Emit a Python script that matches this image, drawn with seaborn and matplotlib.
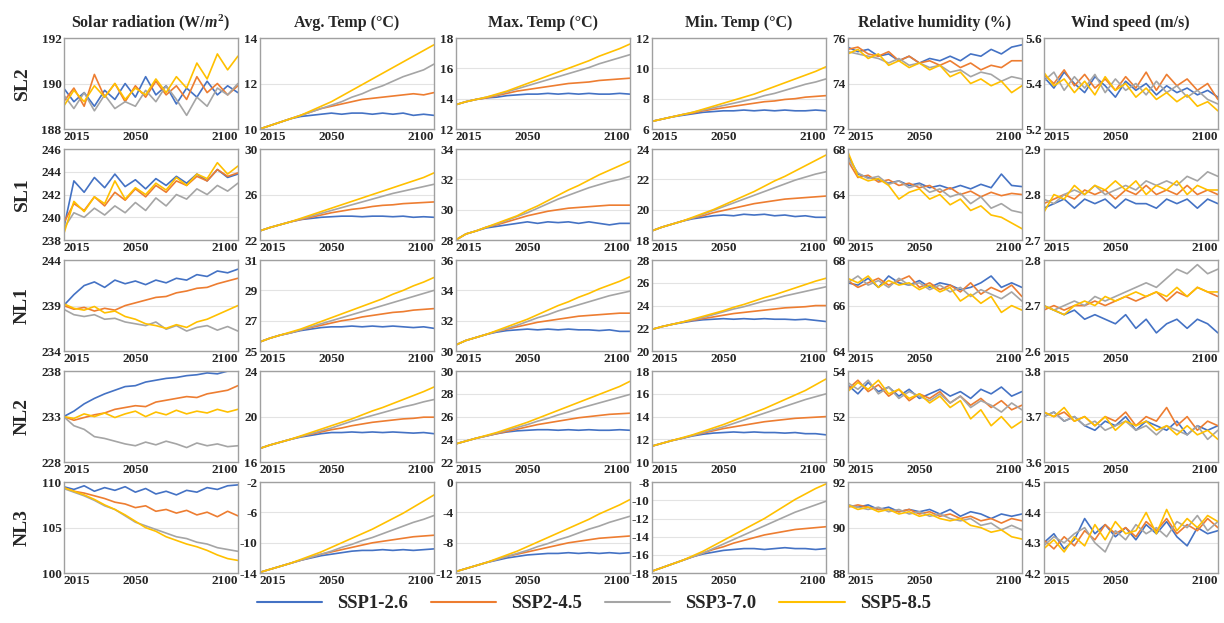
import numpy as np
import pandas as pd
import seaborn as sns
import matplotlib.pyplot as plt
from matplotlib.lines import Line2D

YEARS = list(range(2015, 2101, 5))
SCENARIOS = ['SSP1-2.6', 'SSP2-4.5', 'SSP3-7.0', 'SSP5-8.5']
COLORS = ['#4472C4', '#ED7D31', '#A5A5A5', '#FFC000']
SITES = ['SL2', 'SL1', 'NL1', 'NL2', 'NL3']
TITLES = [r'Solar radiation (W/$\mathit{m}^2$)', 'Avg. Temp (°C)', 'Max. Temp (°C)',
          'Min. Temp (°C)', 'Relative humidity (%)', 'Wind speed (m/s)']

# ---- SL2 ----
sl2_solar = [
    [189.8, 189.2, 189.6, 189.0, 189.7, 189.3, 190.0, 189.4, 190.3, 189.5, 189.9, 189.1, 189.8, 189.4, 190.1, 189.5, 189.9, 189.6],
    [189.2, 189.8, 189.0, 190.4, 189.4, 190.0, 189.2, 189.9, 189.4, 190.1, 189.5, 189.9, 189.3, 190.3, 189.6, 190.0, 189.5, 189.9],
    [189.5, 188.9, 189.6, 188.8, 189.5, 188.9, 189.2, 189.0, 189.7, 189.2, 189.9, 189.3, 188.6, 189.4, 189.0, 189.8, 189.5, 190.0],
    [189.0, 189.7, 189.2, 189.9, 189.4, 190.0, 189.3, 189.8, 189.5, 190.2, 189.6, 190.3, 189.8, 190.9, 190.2, 191.3, 190.6, 191.2]]
sl2_avg = [
    [10.0, 10.15, 10.3, 10.45, 10.55, 10.6, 10.65, 10.7, 10.65, 10.7, 10.7, 10.65, 10.7, 10.65, 10.7, 10.6, 10.65, 10.6],
    [10.0, 10.15, 10.3, 10.45, 10.6, 10.75, 10.9, 11.0, 11.1, 11.2, 11.3, 11.35, 11.4, 11.45, 11.5, 11.55, 11.5, 11.6],
    [10.0, 10.15, 10.3, 10.45, 10.6, 10.75, 10.9, 11.05, 11.2, 11.4, 11.55, 11.75, 11.9, 12.1, 12.3, 12.45, 12.6, 12.85],
    [10.0, 10.15, 10.3, 10.45, 10.6, 10.8, 11.0, 11.2, 11.45, 11.7, 11.95, 12.2, 12.45, 12.7, 12.95, 13.2, 13.45, 13.7]]
sl2_max = [
    [13.6, 13.8, 13.95, 14.05, 14.1, 14.2, 14.25, 14.3, 14.3, 14.35, 14.3, 14.35, 14.3, 14.35, 14.3, 14.3, 14.35, 14.3],
    [13.6, 13.8, 13.95, 14.05, 14.2, 14.35, 14.5, 14.6, 14.7, 14.8, 14.9, 15.0, 15.05, 15.1, 15.2, 15.25, 15.3, 15.35],
    [13.6, 13.8, 13.95, 14.1, 14.25, 14.45, 14.65, 14.85, 15.05, 15.25, 15.45, 15.65, 15.85, 16.05, 16.3, 16.5, 16.7, 16.9],
    [13.6, 13.8, 13.95, 14.1, 14.3, 14.5, 14.75, 15.0, 15.25, 15.5, 15.75, 16.0, 16.25, 16.5, 16.8, 17.05, 17.3, 17.6]]
sl2_min = [
    [6.5, 6.65, 6.8, 6.9, 7.0, 7.1, 7.15, 7.2, 7.2, 7.25, 7.2, 7.25, 7.2, 7.25, 7.2, 7.2, 7.25, 7.2],
    [6.5, 6.65, 6.8, 6.95, 7.05, 7.2, 7.3, 7.4, 7.5, 7.6, 7.7, 7.8, 7.85, 7.95, 8.0, 8.1, 8.15, 8.2],
    [6.5, 6.65, 6.8, 6.95, 7.1, 7.25, 7.4, 7.55, 7.7, 7.85, 8.0, 8.2, 8.35, 8.55, 8.75, 8.95, 9.1, 9.3],
    [6.5, 6.65, 6.8, 6.95, 7.1, 7.3, 7.5, 7.7, 7.9, 8.1, 8.3, 8.55, 8.8, 9.05, 9.3, 9.55, 9.8, 10.1]]
sl2_rh = [
    [75.6, 75.4, 75.5, 75.2, 75.3, 75.0, 75.2, 74.9, 75.1, 75.0, 75.2, 75.0, 75.3, 75.2, 75.5, 75.3, 75.6, 75.7],
    [75.5, 75.6, 75.3, 75.2, 75.4, 75.0, 75.2, 74.9, 75.0, 74.8, 75.0, 74.7, 74.9, 74.6, 74.8, 74.7, 75.0, 75.0],
    [75.4, 75.3, 75.2, 75.1, 74.9, 75.1, 74.8, 74.9, 74.7, 74.8, 74.5, 74.6, 74.3, 74.5, 74.4, 74.1, 74.3, 74.2],
    [75.3, 75.5, 75.1, 75.3, 74.8, 75.0, 74.7, 74.9, 74.6, 74.8, 74.3, 74.5, 74.0, 74.2, 73.9, 74.1, 73.6, 73.9]]
sl2_wind = [
    [5.43, 5.38, 5.45, 5.40, 5.36, 5.43, 5.39, 5.34, 5.41, 5.37, 5.40, 5.35, 5.39, 5.36, 5.38, 5.35, 5.37, 5.34],
    [5.44, 5.40, 5.46, 5.39, 5.44, 5.38, 5.42, 5.37, 5.43, 5.38, 5.45, 5.37, 5.44, 5.39, 5.42, 5.37, 5.40, 5.33],
    [5.41, 5.45, 5.37, 5.43, 5.38, 5.44, 5.36, 5.42, 5.37, 5.40, 5.35, 5.41, 5.36, 5.39, 5.34, 5.37, 5.33, 5.31],
    [5.45, 5.39, 5.42, 5.36, 5.41, 5.35, 5.43, 5.37, 5.40, 5.34, 5.38, 5.33, 5.36, 5.32, 5.35, 5.30, 5.32, 5.28]]

# ---- SL1 ----
sl1_solar = [
    [239.0, 243.2, 242.2, 243.5, 242.6, 243.8, 242.7, 243.3, 242.5, 243.4, 242.8, 243.6, 243.0, 243.8, 243.2, 244.2, 243.5, 243.8],
    [239.5, 241.2, 240.6, 241.8, 241.0, 242.2, 241.5, 242.5, 241.8, 242.8, 242.2, 243.2, 242.8, 243.6, 243.2, 244.2, 243.6, 243.9],
    [239.0, 240.4, 240.0, 240.8, 240.2, 241.0, 240.4, 241.3, 240.6, 241.7, 241.0, 242.0, 241.6, 242.5, 242.0, 242.8, 242.3, 243.0],
    [238.5, 241.4, 240.5, 241.8, 241.2, 243.2, 241.6, 242.6, 242.0, 243.0, 242.4, 243.5, 242.8, 243.8, 243.4, 244.8, 243.8, 244.5]]
sl1_avg = [
    [22.8, 23.1, 23.35, 23.6, 23.8, 23.9, 24.0, 24.05, 24.1, 24.1, 24.05, 24.1, 24.1, 24.05, 24.1, 24.0, 24.05, 24.0],
    [22.8, 23.1, 23.35, 23.6, 23.8, 24.0, 24.2, 24.4, 24.55, 24.7, 24.8, 24.95, 25.05, 25.1, 25.2, 25.25, 25.3, 25.35],
    [22.8, 23.1, 23.35, 23.6, 23.85, 24.1, 24.35, 24.6, 24.85, 25.1, 25.35, 25.6, 25.85, 26.1, 26.3, 26.5, 26.7, 26.9],
    [22.8, 23.1, 23.35, 23.6, 23.9, 24.2, 24.5, 24.8, 25.1, 25.4, 25.7, 26.0, 26.3, 26.6, 26.9, 27.2, 27.5, 27.9]]
sl1_max = [
    [28.0, 28.4, 28.6, 28.8, 28.9, 29.0, 29.1, 29.2, 29.1, 29.2, 29.15, 29.2, 29.1, 29.2, 29.1, 29.0, 29.1, 29.1],
    [28.0, 28.4, 28.6, 28.85, 29.0, 29.2, 29.4, 29.6, 29.75, 29.9, 30.0, 30.1, 30.15, 30.2, 30.25, 30.3, 30.3, 30.3],
    [28.0, 28.4, 28.6, 28.85, 29.05, 29.3, 29.55, 29.8, 30.1, 30.4, 30.7, 30.95, 31.2, 31.45, 31.65, 31.85, 32.0, 32.2],
    [28.0, 28.4, 28.6, 28.85, 29.1, 29.35, 29.6, 29.95, 30.25, 30.6, 30.95, 31.3, 31.6, 31.95, 32.3, 32.6, 32.9, 33.2]]
sl1_min = [
    [18.6, 18.85, 19.05, 19.25, 19.4, 19.5, 19.6, 19.65, 19.6, 19.7, 19.65, 19.7, 19.6, 19.65, 19.55, 19.6, 19.5, 19.5],
    [18.6, 18.85, 19.05, 19.25, 19.45, 19.6, 19.8, 19.95, 20.1, 20.25, 20.4, 20.5, 20.6, 20.7, 20.75, 20.8, 20.85, 20.9],
    [18.6, 18.85, 19.05, 19.25, 19.45, 19.7, 19.95, 20.2, 20.45, 20.7, 20.95, 21.2, 21.45, 21.7, 21.95, 22.15, 22.35, 22.5],
    [18.6, 18.85, 19.05, 19.25, 19.5, 19.75, 20.0, 20.3, 20.6, 20.9, 21.2, 21.55, 21.9, 22.2, 22.55, 22.9, 23.25, 23.6]]
sl1_rh = [
    [67.5, 65.8, 65.5, 65.3, 65.0, 65.2, 64.8, 65.0, 64.6, 64.8, 64.5, 64.8, 64.5, 64.9, 64.6, 65.8, 64.8, 64.7],
    [67.0, 65.5, 65.7, 65.1, 65.3, 64.8, 65.0, 64.6, 64.8, 64.2, 64.6, 64.0, 64.3, 63.8, 64.2, 63.9, 64.1, 64.0],
    [67.2, 65.9, 65.4, 65.6, 64.9, 65.2, 64.6, 64.9, 64.2, 64.5, 63.8, 64.1, 63.2, 63.8, 62.8, 63.2, 62.6, 62.4],
    [67.8, 65.6, 65.2, 65.4, 64.8, 63.6, 64.2, 64.5, 63.6, 64.0, 63.1, 63.6, 62.6, 63.0, 62.2, 62.0, 61.5, 61.0]]
sl1_wind = [
    [2.77, 2.78, 2.79, 2.77, 2.79, 2.78, 2.79, 2.77, 2.79, 2.78, 2.78, 2.77, 2.79, 2.78, 2.79, 2.77, 2.79, 2.78],
    [2.78, 2.79, 2.80, 2.79, 2.81, 2.80, 2.81, 2.79, 2.81, 2.80, 2.82, 2.80, 2.81, 2.80, 2.82, 2.80, 2.81, 2.80],
    [2.79, 2.78, 2.80, 2.81, 2.80, 2.82, 2.80, 2.81, 2.82, 2.81, 2.83, 2.82, 2.83, 2.82, 2.84, 2.83, 2.85, 2.84],
    [2.76, 2.80, 2.79, 2.82, 2.80, 2.82, 2.81, 2.83, 2.81, 2.83, 2.80, 2.82, 2.81, 2.83, 2.80, 2.82, 2.81, 2.81]]

# ---- NL1 ----
nl1_solar = [
    [239.0, 240.2, 241.2, 241.6, 241.0, 241.8, 241.4, 241.7, 241.3, 241.8, 241.5, 242.0, 241.8, 242.4, 242.2, 242.8, 242.6, 243.0],
    [239.0, 238.6, 238.8, 238.4, 238.7, 238.5, 239.0, 239.3, 239.6, 239.9, 240.0, 240.4, 240.6, 240.9, 241.0, 241.4, 241.7, 242.0],
    [238.6, 238.0, 237.8, 238.0, 237.5, 237.6, 237.2, 237.0, 236.8, 237.2, 236.4, 236.8, 236.2, 236.6, 236.8, 236.3, 236.7, 236.2],
    [239.2, 238.7, 238.5, 238.9, 238.2, 238.4, 237.8, 237.5, 237.0, 236.8, 236.5, 236.9, 236.6, 237.2, 237.5, 238.0, 238.5, 239.0]]
nl1_avg = [
    [25.6, 25.85, 26.05, 26.2, 26.35, 26.45, 26.55, 26.6, 26.6, 26.65, 26.6, 26.65, 26.6, 26.65, 26.6, 26.55, 26.6, 26.5],
    [25.6, 25.85, 26.05, 26.2, 26.4, 26.55, 26.7, 26.85, 27.0, 27.1, 27.25, 27.35, 27.45, 27.55, 27.6, 27.7, 27.75, 27.8],
    [25.6, 25.85, 26.05, 26.2, 26.4, 26.6, 26.8, 27.0, 27.2, 27.4, 27.6, 27.8, 28.0, 28.2, 28.4, 28.6, 28.8, 29.0],
    [25.6, 25.85, 26.05, 26.25, 26.45, 26.7, 26.95, 27.2, 27.45, 27.7, 27.95, 28.2, 28.45, 28.75, 29.0, 29.3, 29.55, 29.85]]
nl1_max = [
    [30.4, 30.7, 30.9, 31.1, 31.25, 31.35, 31.4, 31.45, 31.4, 31.45, 31.4, 31.45, 31.4, 31.4, 31.35, 31.4, 31.3, 31.3],
    [30.4, 30.7, 30.9, 31.1, 31.3, 31.45, 31.6, 31.75, 31.9, 32.0, 32.1, 32.2, 32.3, 32.35, 32.4, 32.45, 32.5, 32.5],
    [30.4, 30.7, 30.9, 31.1, 31.3, 31.5, 31.7, 31.95, 32.2, 32.4, 32.65, 32.85, 33.05, 33.25, 33.45, 33.65, 33.8, 33.95],
    [30.4, 30.7, 30.9, 31.1, 31.35, 31.6, 31.85, 32.1, 32.4, 32.7, 33.0, 33.25, 33.55, 33.8, 34.1, 34.35, 34.6, 34.9]]
nl1_min = [
    [21.9, 22.15, 22.35, 22.5, 22.65, 22.75, 22.8, 22.85, 22.8, 22.85, 22.8, 22.85, 22.8, 22.8, 22.75, 22.8, 22.7, 22.6],
    [21.9, 22.15, 22.35, 22.55, 22.7, 22.85, 23.0, 23.15, 23.3, 23.4, 23.5, 23.6, 23.7, 23.8, 23.85, 23.9, 24.0, 24.0],
    [21.9, 22.15, 22.35, 22.55, 22.75, 22.95, 23.2, 23.45, 23.7, 23.9, 24.15, 24.4, 24.6, 24.85, 25.05, 25.25, 25.45, 25.65],
    [21.9, 22.15, 22.35, 22.55, 22.8, 23.05, 23.3, 23.55, 23.85, 24.1, 24.4, 24.7, 24.95, 25.25, 25.55, 25.85, 26.15, 26.4]]
nl1_rh = [
    [67.0, 66.9, 67.2, 66.8, 67.3, 67.0, 66.9, 67.1, 66.8, 67.0, 66.9, 66.7, 66.8, 67.0, 67.3, 66.8, 67.0, 66.8],
    [67.1, 66.8, 67.0, 67.2, 66.9, 67.1, 67.3, 66.8, 67.0, 66.7, 66.9, 66.6, 67.0, 66.5, 66.8, 66.6, 66.9, 66.4],
    [67.0, 67.3, 66.9, 67.1, 66.8, 67.2, 66.9, 67.0, 66.7, 66.9, 66.6, 66.8, 66.4, 66.7, 66.5, 66.3, 66.6, 66.2],
    [67.2, 67.0, 67.3, 66.8, 67.1, 66.9, 67.0, 66.7, 66.9, 66.6, 66.8, 66.2, 66.5, 66.1, 66.4, 65.7, 66.0, 65.8]]
nl1_wind = [
    [2.70, 2.69, 2.68, 2.69, 2.67, 2.68, 2.67, 2.66, 2.68, 2.65, 2.67, 2.64, 2.66, 2.67, 2.65, 2.67, 2.66, 2.64],
    [2.69, 2.70, 2.69, 2.70, 2.70, 2.71, 2.70, 2.71, 2.72, 2.71, 2.72, 2.73, 2.71, 2.73, 2.72, 2.74, 2.73, 2.72],
    [2.70, 2.69, 2.70, 2.71, 2.70, 2.72, 2.71, 2.72, 2.73, 2.74, 2.75, 2.74, 2.76, 2.78, 2.77, 2.79, 2.77, 2.78],
    [2.70, 2.69, 2.68, 2.70, 2.71, 2.70, 2.72, 2.71, 2.72, 2.73, 2.72, 2.73, 2.72, 2.74, 2.72, 2.74, 2.73, 2.73]]

# ---- NL2 ----
nl2_solar = [
    [233.0, 233.6, 234.4, 235.0, 235.5, 235.9, 236.3, 236.4, 236.8, 237.0, 237.2, 237.3, 237.5, 237.6, 237.8, 237.7, 238.0, 238.2],
    [233.0, 232.6, 232.9, 233.2, 233.4, 233.8, 234.0, 234.2, 234.1, 234.6, 234.8, 235.0, 235.2, 235.1, 235.5, 235.7, 235.9, 236.4],
    [233.0, 232.0, 231.6, 230.8, 230.6, 230.3, 230.0, 229.8, 230.2, 229.9, 230.3, 230.0, 229.6, 230.1, 229.8, 230.0, 229.7, 229.8],
    [233.0, 232.8, 233.3, 233.0, 233.4, 232.9, 233.3, 233.6, 233.0, 233.5, 233.2, 233.7, 233.3, 233.6, 233.4, 233.8, 233.5, 233.8]]
nl2_avg = [
    [17.2, 17.5, 17.75, 18.0, 18.2, 18.35, 18.5, 18.6, 18.6, 18.65, 18.6, 18.65, 18.6, 18.65, 18.6, 18.55, 18.6, 18.5],
    [17.2, 17.5, 17.75, 18.0, 18.25, 18.45, 18.65, 18.85, 19.0, 19.2, 19.35, 19.5, 19.6, 19.7, 19.8, 19.85, 19.95, 19.95],
    [17.2, 17.5, 17.75, 18.0, 18.25, 18.5, 18.75, 19.0, 19.3, 19.6, 19.85, 20.1, 20.35, 20.6, 20.85, 21.05, 21.3, 21.5],
    [17.2, 17.5, 17.75, 18.0, 18.3, 18.6, 18.9, 19.2, 19.5, 19.8, 20.15, 20.5, 20.8, 21.15, 21.5, 21.85, 22.2, 22.6]]
nl2_max = [
    [23.6, 23.85, 24.1, 24.3, 24.5, 24.65, 24.75, 24.8, 24.85, 24.85, 24.8, 24.85, 24.8, 24.85, 24.8, 24.8, 24.85, 24.8],
    [23.6, 23.85, 24.1, 24.3, 24.5, 24.7, 24.9, 25.1, 25.3, 25.45, 25.6, 25.75, 25.9, 26.0, 26.1, 26.2, 26.25, 26.3],
    [23.6, 23.85, 24.1, 24.3, 24.55, 24.8, 25.05, 25.3, 25.6, 25.85, 26.15, 26.4, 26.7, 26.95, 27.2, 27.45, 27.7, 27.95],
    [23.6, 23.85, 24.1, 24.35, 24.6, 24.9, 25.2, 25.5, 25.85, 26.2, 26.55, 26.9, 27.25, 27.6, 27.95, 28.3, 28.65, 29.1]]
nl2_min = [
    [11.4, 11.65, 11.9, 12.1, 12.3, 12.45, 12.55, 12.6, 12.65, 12.6, 12.65, 12.6, 12.6, 12.55, 12.6, 12.5, 12.5, 12.4],
    [11.4, 11.65, 11.9, 12.1, 12.35, 12.55, 12.75, 12.95, 13.1, 13.25, 13.4, 13.55, 13.65, 13.75, 13.85, 13.9, 13.95, 14.0],
    [11.4, 11.65, 11.9, 12.1, 12.35, 12.6, 12.85, 13.1, 13.4, 13.7, 14.0, 14.3, 14.6, 14.9, 15.2, 15.5, 15.75, 16.0],
    [11.4, 11.65, 11.9, 12.15, 12.4, 12.7, 13.0, 13.3, 13.65, 14.0, 14.35, 14.7, 15.1, 15.5, 15.9, 16.3, 16.8, 17.3]]
nl2_rh = [
    [53.4, 53.0, 53.5, 53.1, 53.3, 52.9, 53.2, 52.8, 53.0, 53.2, 52.9, 53.1, 52.8, 53.2, 53.0, 53.3, 52.9, 53.1],
    [53.2, 53.6, 53.1, 53.4, 52.9, 53.2, 52.7, 53.0, 52.8, 53.1, 52.6, 52.9, 52.5, 52.8, 52.4, 52.7, 52.3, 52.5],
    [53.5, 53.2, 53.6, 53.0, 53.3, 52.8, 53.1, 52.9, 52.7, 53.0, 52.6, 52.9, 52.4, 52.7, 52.5, 52.2, 52.6, 52.3],
    [53.1, 53.5, 53.2, 53.6, 53.0, 53.2, 52.8, 53.0, 52.6, 52.9, 52.4, 52.7, 51.9, 52.3, 51.6, 52.0, 51.5, 51.8]]
nl2_wind = [
    [3.70, 3.71, 3.69, 3.70, 3.68, 3.67, 3.69, 3.68, 3.70, 3.67, 3.69, 3.68, 3.67, 3.69, 3.66, 3.68, 3.67, 3.68],
    [3.71, 3.70, 3.71, 3.69, 3.70, 3.68, 3.70, 3.69, 3.71, 3.68, 3.70, 3.69, 3.72, 3.68, 3.70, 3.67, 3.69, 3.68],
    [3.70, 3.71, 3.69, 3.70, 3.68, 3.69, 3.67, 3.68, 3.69, 3.67, 3.68, 3.66, 3.68, 3.67, 3.66, 3.68, 3.65, 3.67],
    [3.71, 3.70, 3.72, 3.69, 3.70, 3.68, 3.70, 3.67, 3.69, 3.68, 3.69, 3.67, 3.68, 3.66, 3.68, 3.66, 3.67, 3.65]]

# ---- NL3 ----
nl3_solar = [
    [109.5, 109.2, 109.6, 109.0, 109.4, 109.1, 109.5, 108.9, 109.3, 108.7, 109.0, 108.6, 109.1, 108.9, 109.4, 109.2, 109.6, 109.7],
    [109.4, 109.0, 108.8, 108.5, 108.2, 107.8, 107.6, 107.2, 107.4, 106.8, 107.0, 106.6, 106.9, 106.4, 106.7, 106.2, 106.8, 106.3],
    [109.3, 108.9, 108.5, 108.0, 107.4, 107.0, 106.3, 105.6, 105.2, 104.8, 104.4, 104.0, 103.8, 103.4, 103.2, 102.8, 102.6, 102.4],
    [109.4, 109.0, 108.6, 108.1, 107.5, 107.0, 106.4, 105.7, 105.0, 104.6, 104.0, 103.6, 103.2, 102.9, 102.5, 102.0, 101.6, 101.4]]
nl3_avg = [
    [-13.9, -13.5, -13.1, -12.7, -12.3, -12.0, -11.7, -11.5, -11.3, -11.1, -11.0, -11.0, -10.9, -11.0, -10.9, -11.0, -10.9, -10.8],
    [-13.9, -13.5, -13.1, -12.7, -12.3, -11.9, -11.5, -11.2, -10.9, -10.6, -10.3, -10.0, -9.8, -9.6, -9.4, -9.2, -9.1, -9.0],
    [-13.9, -13.5, -13.1, -12.7, -12.3, -11.9, -11.5, -11.1, -10.6, -10.2, -9.7, -9.3, -8.8, -8.3, -7.8, -7.3, -6.9, -6.4],
    [-13.9, -13.5, -13.1, -12.7, -12.2, -11.7, -11.2, -10.6, -10.0, -9.4, -8.8, -8.2, -7.5, -6.8, -6.1, -5.3, -4.5, -3.7]]
nl3_max = [
    [-11.8, -11.4, -11.0, -10.6, -10.3, -10.0, -9.8, -9.6, -9.5, -9.4, -9.4, -9.3, -9.4, -9.3, -9.4, -9.3, -9.4, -9.3],
    [-11.8, -11.4, -11.0, -10.6, -10.2, -9.8, -9.5, -9.2, -8.9, -8.6, -8.3, -8.0, -7.8, -7.6, -7.4, -7.3, -7.2, -7.1],
    [-11.8, -11.4, -11.0, -10.6, -10.2, -9.8, -9.4, -9.0, -8.5, -8.1, -7.6, -7.2, -6.7, -6.2, -5.8, -5.3, -4.9, -4.5],
    [-11.8, -11.4, -11.0, -10.6, -10.1, -9.6, -9.1, -8.5, -7.9, -7.3, -6.7, -6.1, -5.5, -4.9, -4.2, -3.6, -3.0, -2.3]]
nl3_min = [
    [-17.8, -17.4, -17.0, -16.6, -16.2, -15.9, -15.7, -15.5, -15.4, -15.3, -15.3, -15.4, -15.3, -15.2, -15.3, -15.3, -15.4, -15.3],
    [-17.8, -17.4, -17.0, -16.6, -16.2, -15.8, -15.4, -15.1, -14.7, -14.4, -14.1, -13.8, -13.6, -13.4, -13.2, -13.1, -13.0, -12.9],
    [-17.8, -17.4, -17.0, -16.6, -16.2, -15.8, -15.3, -14.8, -14.3, -13.8, -13.3, -12.8, -12.3, -11.8, -11.3, -10.9, -10.5, -10.1],
    [-17.8, -17.4, -17.0, -16.6, -16.1, -15.6, -15.0, -14.4, -13.8, -13.2, -12.6, -12.0, -11.3, -10.6, -9.9, -9.3, -8.7, -8.2]]
nl3_rh = [
    [91.0, 90.9, 91.0, 90.8, 90.9, 90.7, 90.8, 90.7, 90.8, 90.6, 90.8, 90.5, 90.7, 90.6, 90.4, 90.6, 90.5, 90.6],
    [90.9, 91.0, 90.9, 90.8, 90.8, 90.7, 90.8, 90.6, 90.7, 90.5, 90.6, 90.4, 90.5, 90.3, 90.4, 90.2, 90.4, 90.3],
    [91.0, 90.9, 90.8, 90.9, 90.7, 90.8, 90.6, 90.7, 90.5, 90.6, 90.4, 90.3, 90.4, 90.1, 90.2, 89.9, 90.1, 89.9],
    [91.0, 90.8, 90.9, 90.7, 90.8, 90.6, 90.7, 90.5, 90.6, 90.4, 90.3, 90.4, 90.1, 90.0, 89.8, 89.9, 89.6, 89.5]]
nl3_wind = [
    [4.30, 4.33, 4.28, 4.31, 4.38, 4.33, 4.36, 4.32, 4.35, 4.31, 4.36, 4.33, 4.37, 4.32, 4.29, 4.35, 4.33, 4.34],
    [4.31, 4.28, 4.32, 4.29, 4.34, 4.31, 4.36, 4.33, 4.35, 4.32, 4.37, 4.34, 4.38, 4.33, 4.36, 4.34, 4.38, 4.35],
    [4.29, 4.32, 4.30, 4.33, 4.35, 4.30, 4.27, 4.34, 4.31, 4.36, 4.33, 4.35, 4.32, 4.37, 4.35, 4.39, 4.34, 4.37],
    [4.28, 4.31, 4.27, 4.32, 4.29, 4.36, 4.31, 4.37, 4.33, 4.34, 4.40, 4.33, 4.41, 4.34, 4.38, 4.35, 4.39, 4.37]]

PANELS = [
    [sl2_solar, sl2_avg, sl2_max, sl2_min, sl2_rh, sl2_wind],
    [sl1_solar, sl1_avg, sl1_max, sl1_min, sl1_rh, sl1_wind],
    [nl1_solar, nl1_avg, nl1_max, nl1_min, nl1_rh, nl1_wind],
    [nl2_solar, nl2_avg, nl2_max, nl2_min, nl2_rh, nl2_wind],
    [nl3_solar, nl3_avg, nl3_max, nl3_min, nl3_rh, nl3_wind],
]

YTICKS = [
    [[188, 190, 192], [10, 12, 14], [12, 14, 16, 18], [6, 8, 10, 12], [72, 74, 76], [5.2, 5.4, 5.6]],
    [[238, 240, 242, 244, 246], [22, 26, 30], [28, 30, 32, 34], [18, 20, 22, 24], [60, 64, 68], [2.7, 2.8, 2.9]],
    [[234, 239, 244], [25, 27, 29, 31], [30, 32, 34, 36], [20, 22, 24, 26, 28], [64, 66, 68], [2.6, 2.7, 2.8]],
    [[228, 233, 238], [16, 20, 24], [22, 24, 26, 28, 30], [10, 12, 14, 16, 18], [50, 52, 54], [3.6, 3.7, 3.8]],
    [[100, 105, 110], [-14, -10, -6, -2], [-12, -8, -4, 0], [-18, -16, -14, -12, -10, -8], [88, 90, 92], [4.2, 4.3, 4.4, 4.5]],
]

# %%
sns.set_style('white')
plt.rcParams['font.family'] = ['Liberation Serif', 'DejaVu Serif']
plt.rcParams['font.weight'] = 'bold'
plt.rcParams['mathtext.fontset'] = 'custom'
plt.rcParams['mathtext.rm'] = 'Liberation Serif:bold'
plt.rcParams['mathtext.it'] = 'Liberation Serif:italic:bold'

fig, axes = plt.subplots(5, 6, figsize=(12.24, 6.23), dpi=100)
fig.subplots_adjust(left=0.052, right=0.995, top=0.939, bottom=0.080,
                    wspace=0.125, hspace=0.22)

palette = dict(zip(SCENARIOS, COLORS))

for r, site in enumerate(SITES):
    for c in range(6):
        ax = axes[r, c]
        series = PANELS[r][c]
        df = pd.DataFrame({
            'Year': YEARS * 4,
            'Value': [v for s in series for v in s],
            'Scenario': [sc for sc in SCENARIOS for _ in YEARS],
        })
        sns.lineplot(data=df, x='Year', y='Value', hue='Scenario',
                     palette=palette, linewidth=1.2, legend=False, ax=ax)
        ticks = YTICKS[r][c]
        ax.set_ylim(ticks[0], ticks[-1])
        ax.set_yticks(ticks)
        ax.set_yticklabels(['%g' % t for t in ticks], fontsize=9.5, fontweight='bold')
        ax.set_xlim(2015, 2100)
        ax.set_xticks([2015, 2050, 2100])
        labs = ax.set_xticklabels(['2015', '2050', '2100'], fontsize=9.5, fontweight='bold')
        labs[0].set_ha('left')
        labs[2].set_ha('right')
        ax.tick_params(axis='both', length=0, pad=1.5)
        ax.grid(axis='y', color='#e3e3e3', linewidth=0.8)
        ax.set_xlabel('')
        ax.set_ylabel('')
        for sp in ax.spines.values():
            sp.set_color('#a0a0a0')
            sp.set_linewidth(1.0)
        if r == 0:
            ax.set_title(TITLES[c], fontsize=11.5, fontweight='bold', pad=8)
    y_mid = axes[r, 0].get_position()
    fig.text(0.018, (y_mid.y0 + y_mid.y1) / 2, site, rotation=90,
             ha='center', va='center', fontsize=14, fontweight='bold')

handles = [Line2D([0], [0], color=col, lw=1.5) for col in COLORS]
fig.legend(handles, SCENARIOS, loc='lower center', ncol=4, frameon=False,
           bbox_to_anchor=(0.485, -0.01), prop={'size': 13.5, 'weight': 'bold'},
           handlelength=3.5, columnspacing=1.2, handletextpad=0.8)

plt.savefig('out.png', dpi=100)
